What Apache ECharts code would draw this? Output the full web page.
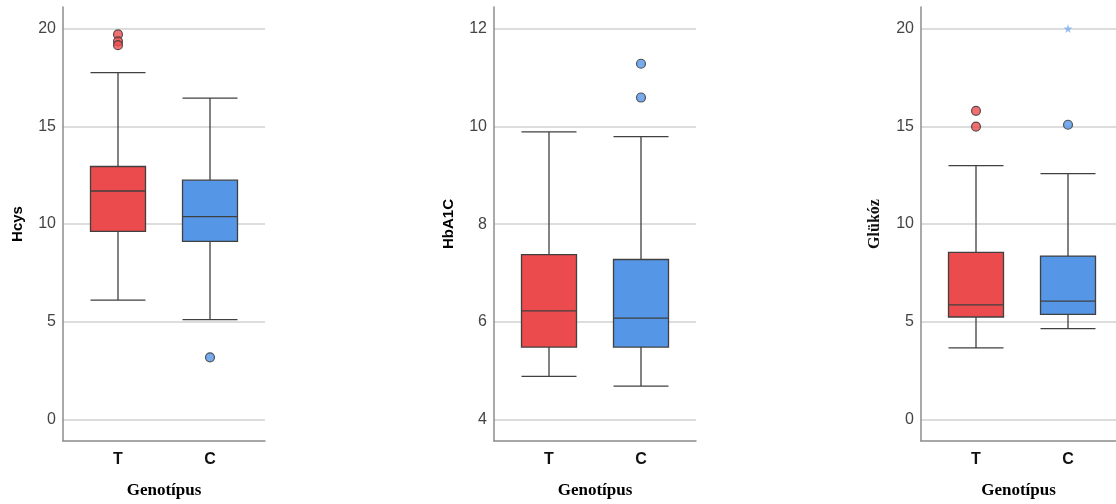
<!DOCTYPE html>
<html>
<head>
<meta charset="utf-8">
<script src="https://cdn.jsdelivr.net/npm/echarts@6/dist/echarts.min.js"></script>
<style>
html,body{margin:0;padding:0;background:#fff;}
#c{width:1116px;height:504px;}
</style>
</head>
<body>
<div id="c"></div>
<script>
// ---- data ----
const categories = ['T', 'C'];
const xTitle = 'Genotípus';
const yTitles = ['Hcys', 'HbA1C', 'Glükóz'];

// box stats: [low whisker, Q1, median, Q3, high whisker]
const hcysT = [6.14, 9.65, 11.71, 12.96, 17.75];
const hcysC = [5.15, 9.14, 10.40, 12.26, 16.45];
const hcysOutT = [19.70, 19.35, 19.15];
const hcysOutC = [3.22];

const hba1cT = [4.90, 5.50, 6.24, 7.39, 9.90];
const hba1cC = [4.70, 5.50, 6.09, 7.29, 9.80];
const hba1cOutT = [];
const hba1cOutC = [11.29, 10.60];

const glukT = [3.70, 5.28, 5.90, 8.58, 13.00];
const glukC = [4.69, 5.41, 6.09, 8.39, 12.60];
const glukOutT = [15.80, 15.00];
const glukOutC = [15.09];
const glukExtremeC = [20.00];

const yRanges = [[-1.1, 21.1], [3.56, 12.45], [-1.1, 21.1]];

// ---- layout ----
const panels = [
  { left: 63, width: 202, innerLeft: 72, innerWidth: 184 },
  { left: 494, width: 202, innerLeft: 503, innerWidth: 184 },
  { left: 921, width: 195, innerLeft: 930, innerWidth: 184 }
];
const TOP = 7, HEIGHT = 435;
const RED = '#EC4B4E', BLUE = '#5596E6';

const boxes = [[hcysT, hcysC], [hba1cT, hba1cC], [glukT, glukC]];
const outs = [[hcysOutT, hcysOutC], [hba1cOutT, hba1cOutC], [glukOutT, glukOutC]];

const grid = [], xAxis = [], yAxis = [], series = [];
const labelFont = 'Liberation Sans, Arial, sans-serif';
const serifFont = 'Liberation Serif, Times New Roman, serif';

panels.forEach((p, i) => {
  const gOuter = i * 2, gInner = i * 2 + 1;
  grid.push({ left: p.left, top: TOP, width: p.width, height: HEIGHT });
  grid.push({ left: p.innerLeft, top: TOP, width: p.innerWidth, height: HEIGHT });
  // outer axes (frame, gridlines, labels, names)
  xAxis.push({
    gridIndex: gOuter, type: 'value', min: 0, max: 1,
    axisLine: { show: true, onZero: false, lineStyle: { color: '#8c8c8c', width: 1.5 } },
    axisTick: { show: false }, axisLabel: { show: false }, splitLine: { show: false },
    name: xTitle, nameLocation: 'middle', nameGap: 41,
    nameTextStyle: { fontFamily: serifFont, fontWeight: 'bold', fontSize: 17, color: '#000' }
  });
  yAxis.push({
    gridIndex: gOuter, type: 'value', min: yRanges[i][0], max: yRanges[i][1], splitNumber: 5,
    axisLine: { show: true, lineStyle: { color: '#8c8c8c', width: 1.5 } },
    axisTick: { show: false },
    axisLabel: { showMinLabel: false, showMaxLabel: false, margin: 7, fontSize: 16, color: '#444', fontFamily: labelFont },
    splitLine: { show: true, showMinLine: false, showMaxLine: false, lineStyle: { color: '#d2d2d2', width: 1.5 } },
    name: yTitles[i], nameLocation: 'middle', nameGap: 38,
    nameTextStyle: i === 2
      ? { fontFamily: serifFont, fontWeight: 'bold', fontSize: 16, color: '#111' }
      : { fontFamily: labelFont, fontWeight: 'bold', fontSize: 15, color: '#000' }
  });
  // inner axes (data)
  xAxis.push({
    gridIndex: gInner, type: 'category', data: categories, boundaryGap: true,
    axisLine: { show: false }, axisTick: { show: false }, splitLine: { show: false },
    axisLabel: { margin: 10, fontSize: 16, fontWeight: 'bold', color: '#111', fontFamily: labelFont }
  });
  yAxis.push({
    gridIndex: gInner, type: 'value', min: yRanges[i][0], max: yRanges[i][1],
    show: false, splitLine: { show: false }
  });
  const xi = i * 2 + 1;
  series.push({
    type: 'boxplot', xAxisIndex: xi, yAxisIndex: xi,
    boxWidth: [55, 55],
    data: [
      { value: boxes[i][0], itemStyle: { color: RED, borderColor: '#404040', borderWidth: 1.3 } },
      { value: boxes[i][1], itemStyle: { color: BLUE, borderColor: '#404040', borderWidth: 1.3 } }
    ],
    emphasis: { disabled: true }
  });
  const outData = [];
  outs[i][0].forEach(v => outData.push({ value: [0, v], itemStyle: { color: RED } }));
  outs[i][1].forEach(v => outData.push({ value: [1, v], itemStyle: { color: BLUE } }));
  series.push({
    type: 'scatter', xAxisIndex: xi, yAxisIndex: xi, symbol: 'circle', symbolSize: 9,
    itemStyle: { borderColor: '#333', borderWidth: 1.2 }, data: outData, z: 5
  });
  if (i === 2) {
    series.push({
      type: 'scatter', xAxisIndex: xi, yAxisIndex: xi,
      symbol: 'path://M50,0 L61,35 L98,35 L68,57 L79,91 L50,70 L21,91 L32,57 L2,35 L39,35 Z',
      symbolSize: 9, itemStyle: { color: '#7aaef0' },
      data: glukExtremeC.map(v => [1, v]), z: 5
    });
  }
});

const chart = echarts.init(document.getElementById('c'));
chart.setOption({ animation: false, backgroundColor: '#fff', grid, xAxis, yAxis, series, tooltip: { show: false } });
</script>
</body>
</html>
